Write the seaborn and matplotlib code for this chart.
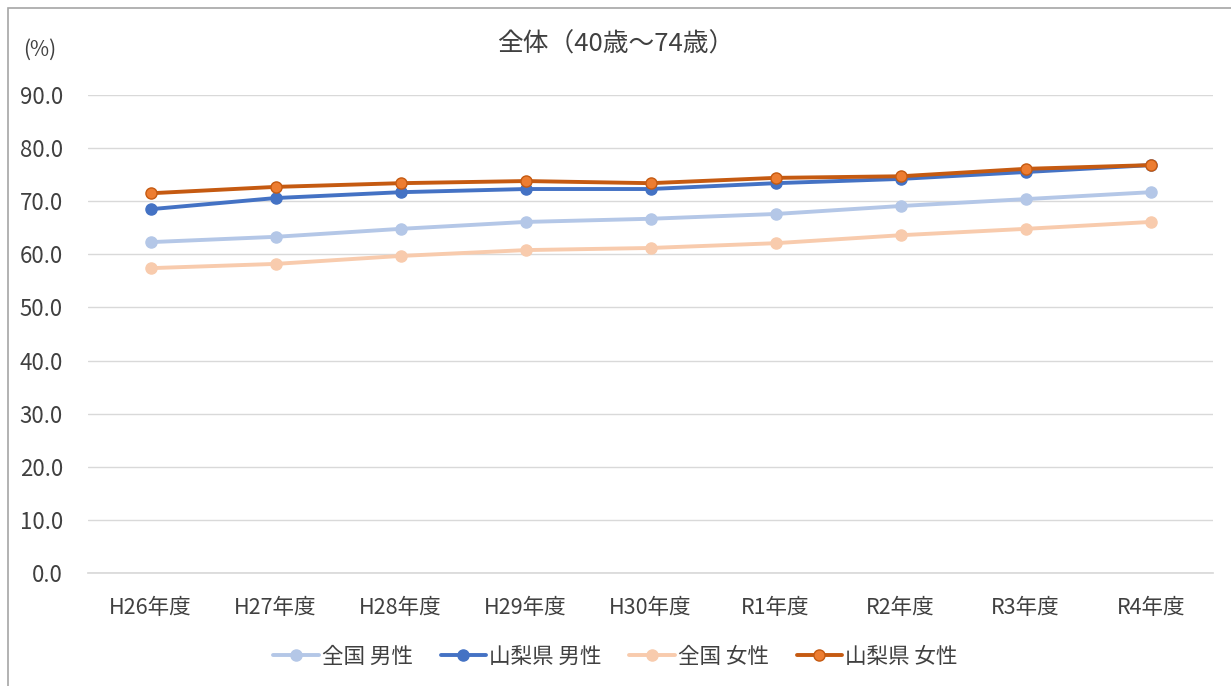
import matplotlib
matplotlib.use("Agg")
import matplotlib.pyplot as plt
import numpy as np
import pandas as pd
import seaborn as sns
from matplotlib.patches import Rectangle

years = ["H26年度", "H27年度", "H28年度", "H29年度", "H30年度", "R1年度", "R2年度", "R3年度", "R4年度"]
zenkoku_male = [62.3, 63.3, 64.8, 66.1, 66.7, 67.6, 69.1, 70.4, 71.7]
yamanashi_male = [68.5, 70.6, 71.7, 72.3, 72.3, 73.4, 74.2, 75.5, 76.8]
zenkoku_female = [57.4, 58.2, 59.7, 60.8, 61.2, 62.1, 63.6, 64.8, 66.1]
yamanashi_female = [71.5, 72.7, 73.4, 73.8, 73.4, 74.4, 74.7, 76.1, 76.8]

series_names = ["全国 男性", "山梨県 男性", "全国 女性", "山梨県 女性"]
series_values = [zenkoku_male, yamanashi_male, zenkoku_female, yamanashi_female]
line_colors = ["#b4c7e7", "#4472c4", "#f8cbad", "#c55a11"]
marker_faces = ["#b4c7e7", "#4472c4", "#f8cbad", "#ed7d31"]

sns.set_theme(style="white")
plt.rcParams["font.family"] = ["Noto Sans CJK JP", "DejaVu Sans"]

df = pd.DataFrame({
    "idx": np.tile(np.arange(len(years)), len(series_names)),
    "value": np.concatenate(series_values),
    "series": np.repeat(series_names, len(years)),
})

fig = plt.figure(figsize=(12.31, 6.86), dpi=100)
ax = fig.add_axes([0.0715, 0.1647, 0.914, 0.6968])

for name, lc, mf in zip(series_names, line_colors, marker_faces):
    sub = df[df["series"] == name]
    sns.lineplot(data=sub, x="idx", y="value", ax=ax, color=lc, linewidth=2.8,
                 marker="o", markersize=8, markerfacecolor=mf,
                 markeredgecolor=lc, markeredgewidth=1.0, label=name)

ax.set_xlim(-0.5, len(years) - 0.5)
ax.set_ylim(0, 90)
ax.set_yticks(np.arange(0, 91, 10))
ax.set_yticklabels([f"{v:.1f}" for v in np.arange(0, 91, 10)], fontsize=16, color="#404040")
ax.set_xticks(range(len(years)))
ax.set_xticklabels(years, fontsize=15.5, color="#404040")
ax.tick_params(axis="x", pad=17, length=0)
ax.tick_params(axis="y", pad=18, length=0)
ax.set_xlabel("")
ax.set_ylabel("")
ax.yaxis.grid(True, color="#d9d9d9", linewidth=1)
ax.set_axisbelow(True)
for s in ax.spines.values():
    s.set_visible(False)
ax.spines["bottom"].set_visible(True)
ax.spines["bottom"].set_color("#d9d9d9")

ax.legend(loc="center", ncol=4, frameon=False,
          fontsize=15.5, handlelength=2.1, columnspacing=1.3, handletextpad=0.15,
          labelcolor="#404040")
leg = ax.get_legend()
leg.set_bbox_to_anchor((0.5, 1 - 657 / 686), transform=fig.transFigure)

fig.text(0.5, 1 - 45 / 686, "全体（40歳～74歳）", ha="center", va="center", fontsize=18.5, color="#404040")
fig.text(40 / 1231, 1 - 50 / 686, "(%)", ha="center", va="center", fontsize=15, color="#404040")

fig.patches.append(Rectangle((8 / 1231, -0.05), 1.1, 1 - 8 / 686 + 0.05, transform=fig.transFigure,
                             fill=False, edgecolor="#a6a6a6", linewidth=1.2))

fig.savefig("out.png", dpi=100)
